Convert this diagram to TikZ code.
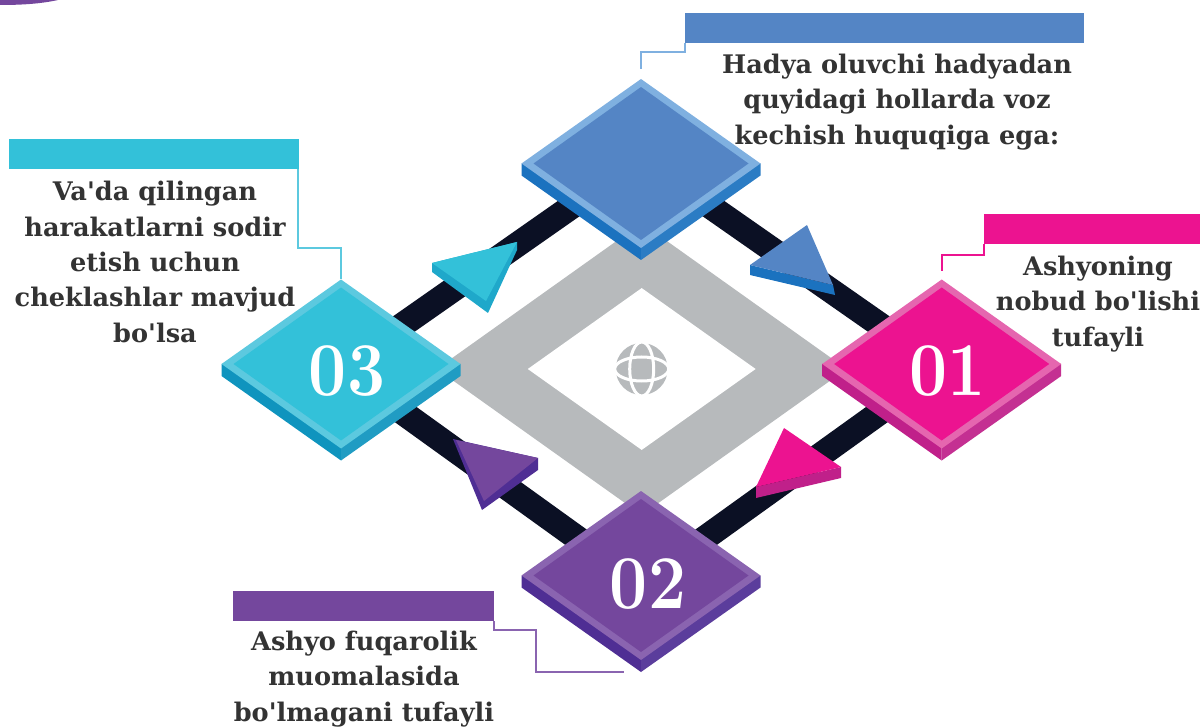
\documentclass[tikz,border=0pt]{standalone}
\usepackage{fontspec}
\usetikzlibrary{shapes.geometric,backgrounds}
\newfontfamily\blurbfont{DejaVu Serif}
\definecolor{bluerim}{HTML}{7FB0E0}
\definecolor{blueface}{HTML}{5485C5}
\definecolor{blueside}{HTML}{1B72BF}
\definecolor{cyanrim}{HTML}{5CC9DF}
\definecolor{cyanface}{HTML}{33C1D9}
\definecolor{cyanside}{HTML}{0F94BE}
\definecolor{pinkrim}{HTML}{E566AF}
\definecolor{pinkface}{HTML}{EC1390}
\definecolor{pinkside}{HTML}{C0208A}
\definecolor{purprim}{HTML}{8A64B0}
\definecolor{purpface}{HTML}{74479D}
\definecolor{purpside}{HTML}{4F2E94}
\definecolor{ringgray}{HTML}{B7BABC}
\definecolor{barink}{HTML}{0B1024}
\definecolor{blurbink}{HTML}{333333}

\begin{document}
\begin{tikzpicture}[x=1pt,y=-1pt,
  plate/.style={diamond,inner sep=0pt,outer sep=0pt,minimum width=239pt,minimum height=169pt,aspect=1.41},
  plateface/.style={diamond,inner sep=0pt,outer sep=0pt,minimum width=215pt,minimum height=153pt,aspect=1.41},
  num/.style={text=white,font=\rmfamily\bfseries\fontsize{76}{76}\selectfont,inner sep=0pt},
  tag/.style={inner sep=0pt,outer sep=0pt,minimum height=30pt},
  blurb/.style={align=center,text=blurbink,inner sep=0pt,font=\blurbfont\bfseries\fontsize{25.6}{35.3}\selectfont},
  bar/.style={barink,line width=25pt},
  leader/.style={line width=2pt}]
\useasboundingbox (0,0) rectangle (1203,727);
\fill[purpface] (0,0) -- (58,0) .. controls (40,4) and (20,5) .. (0,5) -- cycle;
\node[diamond,fill=ringgray,inner sep=0pt,minimum width=410pt,minimum height=292pt,aspect=1.41] (ring) at (641.7,369) {};
\node[diamond,fill=white,inner sep=0pt,minimum width=228pt,minimum height=162pt,aspect=1.41] (hole) at (ring) {};
\fill[ringgray] (hole) circle (26);
\draw[white,line width=3pt] (hole) ellipse [x radius=12,y radius=27];
\draw[white,line width=3pt] (hole) ellipse [x radius=27,y radius=12];
\foreach \nm/\px/\py/\col in {blue/641/163.5/blue,cyan/341/364/cyan,pink/941.7/364/pink,purple/641/575.5/purp}{
  \fill[\col side] (\px-119.5,\py) -- ++(0,12) -- (\px,\py+96.5) -- (\px,\py) -- cycle;
  \fill[\col side!93!white] (\px+119.5,\py) -- ++(0,12) -- (\px,\py+96.5) -- (\px,\py) -- cycle;
  \node[plate,fill=\col rim] (\nm) at (\px,\py) {};
  \node[plateface,fill=\col face] (\nm face) at (\nm) {};
}
\node[num] (n1) at ([shift={(6,7)}]pink) {\scalebox{.89}[1]{01}};
\node[num] (n2) at ([shift={(7,9)}]purple) {\scalebox{.89}[1]{02}};
\node[num] (n3) at ([shift={(6,7)}]cyan) {\scalebox{.89}[1]{03}};
\begin{scope}[on background layer]
\draw[bar] ([yshift=5.5pt]blue.center) -- ([yshift=-4pt]pink.center);
\draw[bar] ([yshift=-4pt]pink.center) -- ([yshift=-8.5pt]purple.center);
\draw[bar] ([yshift=-8.5pt]purple.center) -- ([yshift=-4pt]cyan.center);
\draw[bar] ([yshift=-4pt]cyan.center) -- ([yshift=5.5pt]blue.center);
\end{scope}
\fill[blueside] (750,265) -- (750,275) -- (835,295) -- (833,285) -- cycle;
\fill[blueface] (750,265) -- (807,225) -- (833,285) -- cycle;
\fill[pinkside] (841,467) -- (841,478) -- (756,498) -- (756,487) -- cycle;
\fill[pinkface] (784,428) -- (841,467) -- (756,487) -- cycle;
\fill[purpside] (453,439) -- (482,510) -- (538,470) -- (538,458) -- cycle;
\fill[purpface] (456,440) -- (538,458) -- (484,501) -- cycle;
\fill[cyanside!55!cyanface] (432,263) -- (432,272) -- (488,313) -- (517,250) -- (517,242) -- cycle;
\fill[cyanface] (432,263) -- (517,242) -- (486,301) -- cycle;
\node[tag,fill=blueface,minimum width=399pt] (tagblue) at (884,28) {};
\node[tag,fill=cyanface,minimum width=290pt] (tagcyan) at (154,154) {};
\node[tag,fill=pinkface,minimum width=216pt] (tagpink) at (1092,229) {};
\node[tag,fill=purpface,minimum width=261pt] (tagpurple) at (363.5,606) {};
\coordinate (endpurple) at (624,672);
\draw[leader,bluerim,shorten >=10pt] (tagblue.south west) -- ++(0,9) -| (blue.north);
\draw[leader,cyanrim] ([xshift=-1pt]tagcyan.south east) -- ++(0,79) -| (cyan.north);
\draw[leader,pinkface,shorten >=8pt] (tagpink.south west) -- ++(0,11) -| (pink.north);
\draw[leader,purprim] (tagpurple.south east) -- ++(0,9) -- ++(42,0) |- (endpurple);
\node[blurb] (textblue) at (897,102) {Hadya oluvchi hadyadan\\quyidagi hollarda voz\\kechish huquqiga ega:};
\node[blurb] (textcyan) at (155,262) {Va'da qilingan\\harakatlarni sodir\\etish uchun\\cheklashlar mavjud\\bo'lsa};
\node[blurb] (textpink) at (1098,304) {Ashyoning\\nobud bo'lishi\\tufayli};
\node[blurb] (textpurple) at (364,679) {Ashyo fuqarolik\\muomalasida\\bo'lmagani tufayli};
\end{tikzpicture}
\end{document}
